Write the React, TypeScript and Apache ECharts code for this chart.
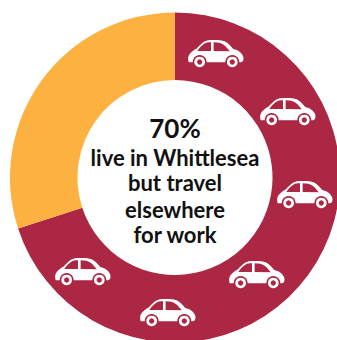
import React, { useEffect, useRef } from "react";
import * as echarts from "echarts";

const segments = ["Travel elsewhere for work", "Other residents"];
const shares = [70, 30];
const segmentColors = ["#AB2743", "#FDB141"];
const headline = "70%";
const captionLines = ["live in Whittlesea", "but travel", "elsewhere", "for work"];
// Top-left corner of each car badge on the ring
const carCorners = [
  [188, 40],
  [260, 98],
  [277, 181],
  [229, 261],
  [140, 299],
  [55, 258],
];

const CAR_BODY =
  "M2 66 C-1 58 0 48 5 42 C10 36 18 30 27 25 C37 14 48 3 60 1 C78 -1 98 -1 110 4 C120 9 128 18 136 27 C150 30 162 38 166 50 C168 58 166 64 160 67 L2 67 Z";
const WINDOW_LEFT = "M28 33 C34 23 44 12 54 8 C59 7 64 7 69 7 L69 33 Z";
const WINDOW_RIGHT = "M77 7 C90 7 100 9 108 15 C114 20 120 27 125 34 L77 33 Z";

echarts.graphic.registerShape("carBody", echarts.graphic.extendPath(CAR_BODY, {}));
echarts.graphic.registerShape("carWindowLeft", echarts.graphic.extendPath(WINDOW_LEFT, {}));
echarts.graphic.registerShape("carWindowRight", echarts.graphic.extendPath(WINDOW_RIGHT, {}));

const TOP = 10;

function wheel(cx: number, cy: number, color: string) {
  return [
    { type: "circle", z: TOP, shape: { cx, cy, r: 21 }, style: { fill: color } },
    { type: "circle", z: TOP, shape: { cx, cy, r: 16 }, style: { fill: "#fff" } },
    { type: "circle", z: TOP, shape: { cx, cy, r: 8 }, style: { fill: color } },
  ];
}

function car(x: number, y: number, color: string) {
  const scale = 1 / 3;
  return {
    type: "group",
    x,
    y,
    scaleX: scale,
    scaleY: scale,
    silent: true,
    children: [
      { type: "carBody", z: TOP, style: { fill: "#fff" } },
      { type: "carWindowLeft", z: TOP, style: { fill: color } },
      { type: "carWindowRight", z: TOP, style: { fill: color } },
      ...wheel(35, 66, color),
      ...wheel(133, 66, color),
    ],
  };
}

export default function App() {
  const ref = useRef<HTMLDivElement>(null);

  useEffect(() => {
    const chart = echarts.init(ref.current!, undefined, { renderer: "svg" });
    const font = "Lato, Noto Sans, sans-serif";
    const captionY = [157, 182.5, 209, 234.5];
    chart.setOption({
      animation: false,
      backgroundColor: "#fff",
      series: [
        {
          type: "pie",
          center: [175, 177.5],
          radius: [97.5, 165],
          startAngle: 90,
          clockwise: true,
          silent: true,
          label: { show: false },
          labelLine: { show: false },
          data: segments.map((name, i) => ({
            name,
            value: shares[i],
            itemStyle: { color: segmentColors[i] },
          })),
        },
      ],
      graphic: [
        ...carCorners.map(([x, y]) => car(x, y, segmentColors[0])),
        {
          type: "text",
          x: 175,
          y: 128,
          z: TOP,
          style: {
            text: headline,
            fill: "#111",
            font: `bold 26px ${font}`,
            textAlign: "center",
            textVerticalAlign: "middle",
          },
        },
        ...captionLines.map((line, i) => ({
          type: "text",
          x: 175,
          y: captionY[i],
          z: TOP,
          style: {
            text: line,
            fill: "#111",
            font: `bold 22px ${font}`,
            textAlign: "center",
            textVerticalAlign: "middle",
          },
        })),
      ],
    });
    return () => chart.dispose();
  }, []);

  return (
    <div
      ref={ref}
      style={{ position: "fixed", left: 0, top: 0, width: 337, height: 340, overflow: "hidden" }}
    />
  );
}
